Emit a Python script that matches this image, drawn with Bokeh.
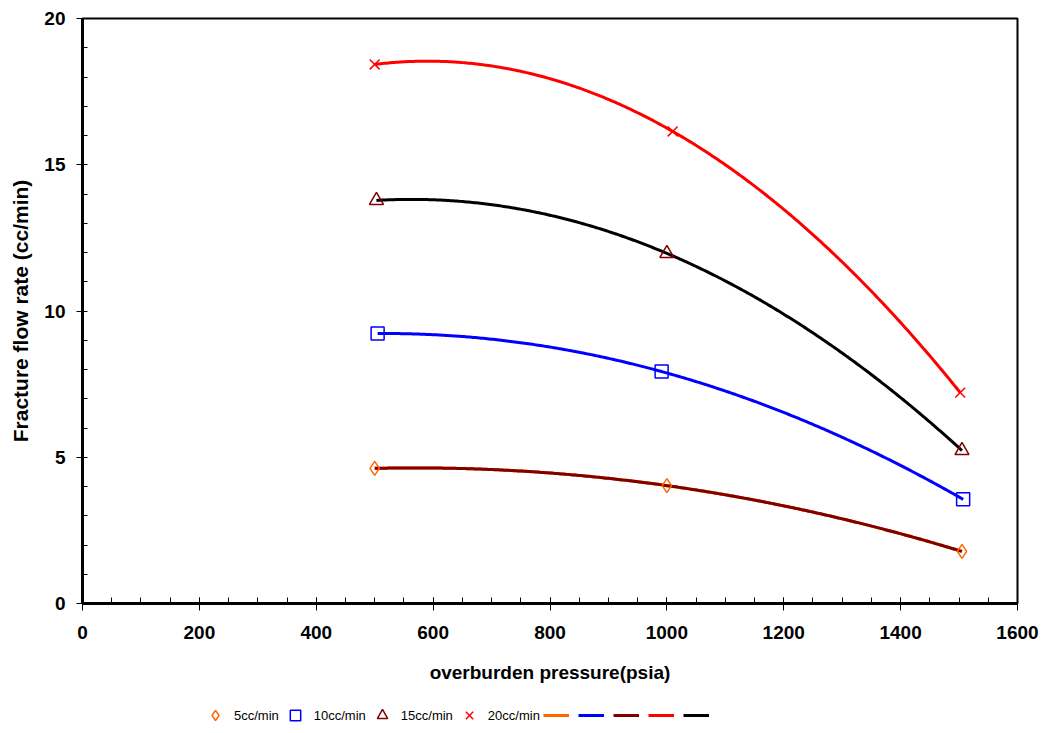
import numpy as np
from bokeh.plotting import figure
from bokeh.layouts import column
from bokeh.models import Range1d, Legend, LegendItem, SingleIntervalTicker
from bokeh.core.properties import value
from bokeh.embed import file_html
from bokeh.resources import INLINE

# ---- data ----
pressure_5 = [500, 1000, 1505]
rate_5 = [4.62, 4.03, 1.78]
pressure_10 = [505, 991, 1507]
rate_10 = [9.23, 7.93, 3.56]
pressure_15 = [503, 1000, 1505]
rate_15 = [13.78, 11.97, 5.23]
pressure_20 = [500, 1010, 1502]
rate_20 = [18.43, 16.14, 7.21]

series_labels = ["5cc/min", "10cc/min", "15cc/min", "20cc/min"]
x_ticks_interval = 200
y_ticks_interval = 5

FONT = "Liberation Sans"
W = 1044
H_MAIN = 700
H_LEG = 33

p = figure(width=W, height=H_MAIN,
           x_range=Range1d(0, 1600), y_range=Range1d(0, 20),
           output_backend="svg", toolbar_location=None,
           min_border_left=82, min_border_right=27,
           min_border_top=18, min_border_bottom=H_MAIN - 603)
p.xgrid.visible = False
p.ygrid.visible = False
p.outline_line_color = "black"
p.outline_line_width = 2
p.background_fill_color = "white"
p.border_fill_color = "white"

p.xaxis.ticker = SingleIntervalTicker(interval=x_ticks_interval, num_minor_ticks=4)
p.yaxis.ticker = SingleIntervalTicker(interval=y_ticks_interval, num_minor_ticks=5)

for ax in (p.xaxis[0], p.yaxis[0]):
    ax.axis_line_width = 3
    ax.axis_line_color = "black"
    ax.major_tick_line_color = "black"
    ax.minor_tick_line_color = "black"
    ax.major_tick_line_width = 1
    ax.minor_tick_line_width = 1
    ax.major_label_text_font = FONT
    ax.major_label_text_font_style = "bold"
    ax.major_label_text_font_size = "19px"
    ax.major_label_text_color = "black"
    ax.axis_label_text_font = FONT
    ax.axis_label_text_font_style = "bold"
    ax.axis_label_text_font_size = "19px"
    ax.axis_label_text_color = "black"

p.xaxis.major_tick_out = 7
p.xaxis.major_tick_in = 6
p.xaxis.minor_tick_in = 6
p.xaxis.minor_tick_out = 0
p.xaxis.major_label_standoff = 15
p.xaxis.axis_label_standoff = 20
p.xaxis.axis_label = "overburden pressure(psia)"

p.yaxis.major_tick_out = 6
p.yaxis.major_tick_in = 0
p.yaxis.minor_tick_in = 5
p.yaxis.minor_tick_out = 0
p.yaxis.major_label_standoff = 11
p.yaxis.axis_label_standoff = 9
p.yaxis.axis_label = "Fracture flow rate (cc/min)"
p.yaxis.axis_label_text_font_size = "21px"

# ---- trend lines (quadratic fits of each series) ----
def trend(xs, ys):
    c = np.polyfit(xs, ys, 2)
    xx = np.linspace(min(xs), max(xs), 300)
    return xx, np.polyval(c, xx)

tx5, ty5 = trend(pressure_5, rate_5)
tx10, ty10 = trend(pressure_10, rate_10)
tx15, ty15 = trend(pressure_15, rate_15)
tx20, ty20 = trend(pressure_20, rate_20)

line_styles = [("#FF6600", tx5, ty5), ("#0000FF", tx10, ty10), ("#800000", tx5, ty5),
               ("#FF0000", tx20, ty20), ("#000000", tx15, ty15)]
for color, xx, yy in line_styles:
    p.line(xx, yy, line_color=color, line_width=3)

marker_styles = [
    ("diamond", "#FF6600", 14, pressure_5, rate_5),
    ("square", "#0000FF", 13, pressure_10, rate_10),
    ("triangle", "#800000", 14, pressure_15, rate_15),
    ("x", "#FF0000", 14, pressure_20, rate_20),
]
for mk, color, sz, xs, ys in marker_styles:
    p.scatter(xs, ys, marker=mk, size=sz, fill_color=None,
              line_color=color, line_width=1.5)

# ---- legend strip (separate small figure below the chart) ----
q = figure(width=W, height=H_LEG, x_range=Range1d(0, 1), y_range=Range1d(0, 1),
           output_backend="svg", toolbar_location=None,
           x_axis_location=None, y_axis_location=None,
           min_border=0, min_border_left=0, min_border_right=0,
           min_border_top=0, min_border_bottom=0)
q.xgrid.visible = False
q.ygrid.visible = False
q.outline_line_color = None
q.border_fill_color = "white"
q.background_fill_color = "white"

# proxy renderers placed outside the visible range, only used by the legend
items = []
for (mk, color, sz, xs, ys), lab in zip(marker_styles, series_labels):
    r = q.scatter([-10], [-10], marker=mk, size=sz, fill_color=None,
                  line_color=color, line_width=1.5)
    items.append(LegendItem(label=value(lab), renderers=[r]))
for color, xx, yy in line_styles:
    r = q.line([-10, -9], [-10, -10], line_color=color, line_width=3)
    items.append(LegendItem(label=value(""), renderers=[r]))

legend = Legend(items=items, orientation="horizontal", location=(120, 5),
                border_line_color=None, background_fill_alpha=0,
                label_text_font=FONT, label_text_font_size="13px",
                label_text_color="black", label_width=0,
                glyph_width=26, glyph_height=26, spacing=3,
                label_standoff=6, padding=0, margin=0)
q.add_layout(legend, "center")

layout = column(p, q, spacing=0)
open("out.html", "w").write(file_html(layout, INLINE))
